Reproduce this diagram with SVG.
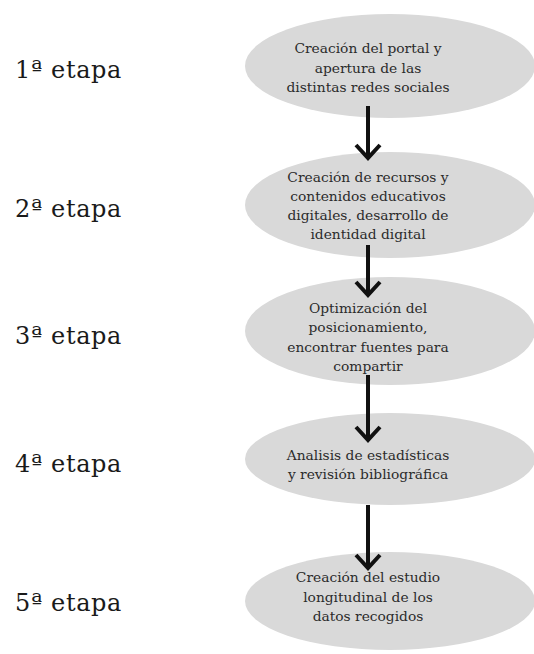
<svg xmlns="http://www.w3.org/2000/svg" width="534" height="654" viewBox="0 0 534 654">
<defs>
<style>
.n{fill:#d9d9d9;}
.t{font-family:"DejaVu Serif","Liberation Serif",serif;font-size:13.8px;fill:#2b2b2b;text-anchor:middle;}
.l{font-family:"DejaVu Serif","Liberation Serif",serif;font-size:24px;letter-spacing:0.6px;fill:#1a1a1a;}
.c{stroke:#111;stroke-width:4;fill:none;}
</style>
</defs>
<rect width="534" height="654" fill="#fff"/>
<g id="label1"><text class="l" x="15" y="78">1ª etapa</text></g>
<g id="label2"><text class="l" x="15" y="217">2ª etapa</text></g>
<g id="label3"><text class="l" x="15" y="344">3ª etapa</text></g>
<g id="label4"><text class="l" x="15" y="472">4ª etapa</text></g>
<g id="label5"><text class="l" x="15" y="611">5ª etapa</text></g>
<g id="node1"><ellipse class="n" cx="390" cy="66" rx="145" ry="52"/>
<text class="t" x="368" y="53">Creación del portal y</text>
<text class="t" x="368" y="73">apertura de las</text>
<text class="t" x="368" y="92">distintas redes sociales</text></g>
<g id="node2"><ellipse class="n" cx="390" cy="205" rx="145" ry="53"/>
<text class="t" x="368" y="182">Creación de recursos y</text>
<text class="t" x="368" y="201">contenidos educativos</text>
<text class="t" x="368" y="220">digitales, desarrollo de</text>
<text class="t" x="368" y="239">identidad digital</text></g>
<g id="node3"><ellipse class="n" cx="390" cy="331" rx="145" ry="54"/>
<text class="t" x="368" y="313">Optimización del</text>
<text class="t" x="368" y="332">posicionamiento,</text>
<text class="t" x="368" y="352">encontrar fuentes para</text>
<text class="t" x="368" y="371">compartir</text></g>
<g id="node4"><ellipse class="n" cx="390" cy="459" rx="145" ry="46"/>
<text class="t" x="368" y="460">Analisis de estadísticas</text>
<text class="t" x="368" y="479">y  revisión bibliográfica</text></g>
<g id="node5"><ellipse class="n" cx="390" cy="601" rx="145" ry="49"/>
<text class="t" x="368" y="582">Creación del estudio</text>
<text class="t" x="368" y="602">longitudinal de los</text>
<text class="t" x="368" y="621">datos recogidos</text></g>
<g id="connectors">
<path class="c" d="M368 106V158M356 145L368 158L380 145"/>
<path class="c" d="M368 245V295M356 282L368 295L380 282"/>
<path class="c" d="M368 375V440M356 427L368 440L380 427"/>
<path class="c" d="M368 505V568M356 555L368 568L380 555"/>
</g>
</svg>
